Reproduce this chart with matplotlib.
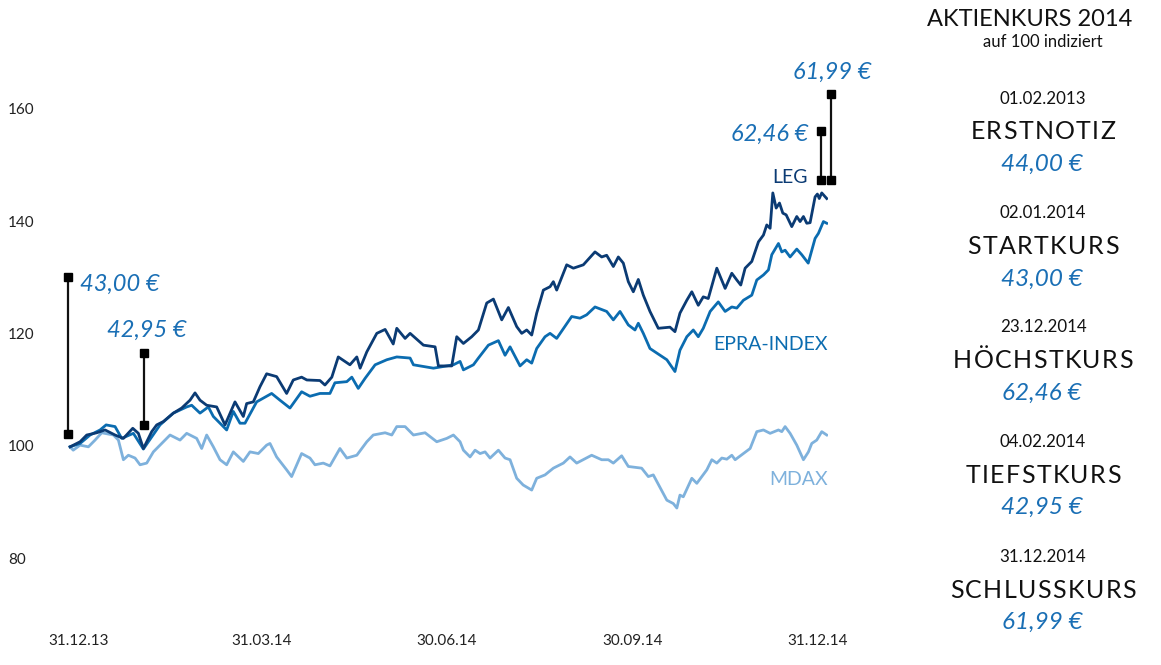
import matplotlib
matplotlib.use("Agg")
import matplotlib.pyplot as plt
from matplotlib.lines import Line2D

plt.rcParams['font.family'] = ['Lato', 'DejaVu Sans']

# ---- data (day of year 2014, index value; 31.12.2013 = 100) ----
leg_days = [1.0, 5.8, 9.0, 13.8, 17.8, 22.6, 26.6, 31.1, 33.8, 36.2, 40.2, 42.6, 45.8, 50.6, 54.6,
            58.6, 61.0, 63.4, 66.6, 71.4, 75.4, 80.2, 84.2, 85.8, 89.0, 92.2, 95.4, 100.2, 105.0,
            108.2, 112.2, 114.7, 121.0, 123.4, 126.7, 129.8, 135.4, 138.7, 140.3, 143.5, 148.3,
            152.3, 156.2, 157.9, 161.9, 164.3, 170.7, 176.3, 177.9, 184.3, 186.7, 189.9, 193.9,
            197.1, 201.1, 204.3, 208.3, 211.5, 215.5, 217.9, 220.3, 222.7, 225.1, 228.3, 231.5,
            233.1, 234.7, 239.5, 242.7, 247.5, 253.1, 256.3, 258.7, 261.9, 264.3, 266.7, 269.1,
            271.5, 273.9, 276.3, 279.5, 283.5, 289.1, 291.5, 293.9, 297.2, 299.6, 302.7, 305.1,
            307.5, 311.6, 315.6, 318.8, 321.2, 323.1, 325.2, 328.4, 331.6, 334.0, 335.6, 337.2,
            338.5, 340.1, 341.7, 343.3, 344.9, 347.6, 350.0, 351.6, 353.2, 354.8, 356.4, 358.8,
            359.9, 360.8, 362.0, 364.4]
leg_vals = [99.8, 100.7, 101.9, 102.3, 102.8, 101.9, 101.3, 103.1, 102.2, 99.5, 102.5, 103.7, 104.3,
            105.8, 106.7, 108.1, 109.4, 108.1, 107.2, 106.9, 103.7, 107.8, 105.2, 107.5, 107.8,
            110.5, 112.8, 112.3, 109.3, 111.7, 112.2, 111.7, 111.6, 110.8, 112.2, 115.8, 114.4,
            115.8, 113.8, 116.7, 120.0, 120.7, 118.1, 120.9, 119.1, 120.0, 117.9, 117.6, 114.2,
            114.2, 119.4, 118.2, 119.4, 120.6, 125.4, 126.1, 122.4, 124.6, 121.2, 120.0, 120.6,
            119.7, 123.6, 127.7, 128.3, 129.2, 127.7, 132.2, 131.6, 132.2, 134.5, 133.6, 133.9,
            131.9, 133.6, 132.5, 129.2, 127.4, 129.6, 126.8, 123.9, 120.9, 121.1, 120.3, 123.6,
            125.9, 127.4, 125.0, 126.5, 126.2, 131.6, 128.0, 130.7, 129.5, 128.6, 131.6, 132.8,
            136.3, 137.5, 139.3, 138.7, 145.0, 142.3, 143.2, 141.4, 141.1, 139.0, 140.8, 139.9,
            140.8, 139.6, 139.7, 144.3, 144.8, 144.0, 145.0, 144.0]

epra_days = [1.0, 5.8, 10.6, 15.4, 18.3, 22.6, 25.8, 31.4, 36.2, 38.6, 44.2, 50.6, 57.0, 59.4, 63.4,
             67.4, 69.8, 76.2, 79.4, 82.6, 85.0, 90.6, 97.8, 101.8, 106.6, 112.2, 116.2, 121.0,
             125.8, 128.2, 133.9, 136.3, 139.4, 142.7, 147.5, 153.1, 157.9, 164.3, 165.9, 170.7,
             175.5, 180.3, 185.1, 188.3, 189.9, 194.7, 197.1, 201.9, 206.7, 209.9, 212.3, 217.1,
             220.3, 222.7, 225.1, 229.1, 231.5, 234.7, 241.9, 245.9, 249.1, 253.1, 258.7, 261.9,
             265.1, 269.1, 272.3, 273.9, 276.3, 279.5, 287.6, 291.5, 293.9, 297.2, 300.3, 302.7,
             305.1, 308.4, 312.3, 315.6, 318.8, 321.2, 324.4, 328.4, 330.8, 334.0, 336.4, 338.0,
             341.2, 342.8, 344.4, 346.8, 350.0, 352.4, 355.5, 358.8, 360.4, 362.8, 364.4]
epra_vals = [99.8, 100.4, 101.9, 102.8, 103.7, 103.4, 101.3, 102.2, 99.4, 100.7, 103.7, 105.8, 106.9,
             107.2, 105.8, 106.9, 105.2, 102.8, 106.1, 104.0, 104.0, 107.8, 109.3, 108.1, 106.7,
             109.6, 108.8, 109.3, 109.3, 111.2, 111.4, 112.2, 110.2, 112.0, 114.4, 115.3, 115.8,
             115.6, 114.4, 114.1, 113.8, 114.1, 114.4, 115.0, 113.5, 114.4, 115.6, 117.9, 118.7,
             116.1, 117.6, 114.2, 115.3, 114.7, 117.3, 119.4, 120.0, 119.1, 123.0, 122.7, 123.3,
             124.7, 123.9, 122.4, 123.9, 121.5, 120.6, 121.8, 120.0, 117.3, 115.3, 113.2, 117.0,
             119.4, 120.6, 119.4, 120.9, 123.9, 125.6, 123.9, 124.7, 124.5, 125.9, 126.8, 129.5,
             130.4, 131.3, 134.0, 136.0, 134.5, 134.8, 133.6, 135.0, 134.0, 132.5, 136.9, 137.8,
             139.9, 139.6]

mdax_days = [1.0, 2.5, 5.8, 9.8, 13.0, 16.2, 21.8, 24.2, 26.6, 29.0, 32.2, 34.6, 37.8, 41.0, 44.2,
             49.0, 53.8, 57.0, 61.8, 64.2, 66.6, 69.8, 73.0, 76.2, 79.4, 84.2, 87.4, 91.4, 95.4,
             97.0, 100.2, 105.0, 107.4, 112.2, 116.2, 118.6, 122.6, 125.8, 130.6, 133.9, 138.7,
             143.5, 146.6, 152.3, 155.5, 157.9, 161.9, 165.9, 171.5, 177.1, 181.9, 185.1, 188.3,
             189.9, 193.1, 195.5, 197.9, 200.3, 202.7, 206.7, 209.9, 212.3, 215.5, 218.6, 222.7,
             225.1, 229.1, 233.1, 237.9, 241.1, 244.3, 251.5, 256.3, 259.5, 261.9, 265.9, 269.1,
             275.5, 278.7, 281.1, 287.6, 290.7, 292.4, 293.9, 295.5, 299.6, 302.0, 306.8, 309.2,
             311.6, 314.0, 316.4, 318.8, 320.4, 327.6, 330.8, 334.0, 337.2, 341.2, 342.8, 344.4,
             346.8, 350.0, 353.2, 355.6, 357.2, 359.6, 362.0, 364.4]
mdax_vals = [99.8, 99.2, 100.1, 99.8, 101.0, 102.3, 101.9, 101.0, 97.5, 98.3, 97.8, 96.6, 96.9, 98.9,
             100.1, 101.9, 101.0, 102.2, 101.3, 99.5, 101.9, 99.8, 97.5, 96.6, 98.9, 97.2, 98.9,
             98.6, 100.1, 100.4, 98.0, 95.7, 94.5, 98.6, 97.8, 96.6, 96.9, 96.4, 99.5, 97.8, 98.3,
             100.7, 101.9, 102.3, 101.9, 103.4, 103.4, 101.9, 102.3, 100.7, 101.3, 101.9, 100.7,
             99.2, 98.0, 99.2, 98.6, 98.9, 97.8, 99.2, 97.8, 97.5, 94.2, 93.0, 92.1, 94.2, 94.8,
             96.0, 96.9, 98.0, 96.9, 98.3, 97.5, 97.5, 96.9, 98.2, 96.3, 96.0, 94.5, 94.8, 90.3,
             89.7, 88.9, 91.2, 90.9, 94.2, 93.3, 95.7, 97.5, 96.9, 97.8, 97.6, 98.3, 97.5, 99.5,
             102.5, 102.8, 102.2, 102.8, 102.5, 103.4, 102.2, 100.1, 97.5, 98.9, 100.4, 101.0,
             102.5, 101.9]

y_ticks = [80, 100, 120, 140, 160]
x_tick_labels = ['31.12.13', '31.03.14', '30.06.14', '30.09.14', '31.12.14']
x_tick_days = [5, 93, 182, 271, 360]

series_names = ['LEG', 'EPRA-INDEX', 'MDAX']

# annotations: (day, low, high) brackets and price labels
bracket_defs = [(0.1, 102.0, 130.1), (36.5, 103.6, 116.5), (361.7, 147.3, 156.0), (366.3, 147.3, 162.7)]
price_labels = ['43,00 €', '42,95 €', '62,46 €', '61,99 €']

panel_dates = ['01.02.2013', '02.01.2014', '23.12.2014', '04.02.2014', '31.12.2014']
panel_heads = ['ERSTNOTIZ', 'STARTKURS', 'HÖCHSTKURS', 'TIEFSTKURS', 'SCHLUSSKURS']
panel_vals = ['44,00 €', '43,00 €', '62,46 €', '42,95 €', '61,99 €']

# ---- style ----
C_LEG = '#0b3b74'
C_EPRA = '#0b6cb0'
C_MDAX = '#7eb1dc'
C_TXT = '#1a6fb5'

W, H = 1161, 665
fig = plt.figure(figsize=(W / 100, H / 100), dpi=100)
ax = fig.add_axes([68 / W, 1 - 614.2 / H, 760 / W, (614.2 - 52.5) / H])
ax.set_xlim(0, 365)
ax.set_ylim(70, 170)
for s in ax.spines.values():
    s.set_visible(False)

ax.plot(mdax_days, mdax_vals, color=C_MDAX, lw=2.0, solid_joinstyle='round', zorder=2)
ax.plot(epra_days, epra_vals, color=C_EPRA, lw=2.0, solid_joinstyle='round', zorder=3)
ax.plot(leg_days, leg_vals, color=C_LEG, lw=2.0, solid_joinstyle='round', zorder=4)

ax.set_yticks(y_ticks)
ax.set_yticklabels([str(v) for v in y_ticks])
ax.set_xticks(x_tick_days)
ax.set_xticklabels(x_tick_labels)
ax.tick_params(axis='both', length=0, labelsize=11, labelcolor='#222222')
ax.tick_params(axis='y', pad=43)
ax.tick_params(axis='x', pad=14)
for lab in ax.get_yticklabels():
    lab.set_ha('left')

# series labels
ax.text(355.5, 147.7, series_names[0], color=C_LEG, fontsize=14, ha='right', va='center')
ax.text(365, 118.1, series_names[1], color=C_EPRA, fontsize=14, ha='right', va='center')
ax.text(365, 93.9, series_names[2], color=C_MDAX, fontsize=14, ha='right', va='center')

# brackets
for d, lo, hi in bracket_defs:
    ax.add_line(Line2D([d, d], [lo, hi], color='#111111', lw=1.6, marker='s', markersize=6,
                       markerfacecolor='#000000', markeredgecolor='#000000', clip_on=False, zorder=6))

ax.text(5.8, 128.8, price_labels[0], color=C_TXT, fontsize=17, style='italic', ha='left', va='center')
ax.text(18.7, 120.6, price_labels[1], color=C_TXT, fontsize=17, style='italic', ha='left', va='center')
ax.text(355.4, 155.5, price_labels[2], color=C_TXT, fontsize=17, style='italic', ha='right', va='center')
ax.text(367, 166.5, price_labels[3], color=C_TXT, fontsize=17, style='italic', ha='center', va='center', clip_on=False)

# right panel
renderer = fig.canvas.get_renderer()


def spaced_text(xc_px, baseline_px, s, size, gap_px, **kw):
    widths = []
    for ch in s:
        t = fig.text(0, 0, ch, fontsize=size, **kw)
        widths.append(t.get_window_extent(renderer).width)
        t.remove()
    total = sum(widths) + gap_px * (len(s) - 1)
    x = xc_px - total / 2
    for ch, w in zip(s, widths):
        fig.text(x / W, 1 - baseline_px / H, ch, fontsize=size, ha='left', va='baseline', **kw)
        x += w + gap_px


fig.text(1030 / W, 1 - 20 / H, 'AKTIENKURS 2014', fontsize=17, color='#111111', ha='center', va='center')
fig.text(1043 / W, 1 - 42 / H, 'auf 100 indiziert', fontsize=12, color='#111111', ha='center', va='center')
date_y = [99, 213, 327, 442, 557]
head_base = [139, 254, 368, 483, 598]
val_y = [164, 279, 393, 507, 622]
for i in range(5):
    fig.text(1043 / W, 1 - date_y[i] / H, panel_dates[i], fontsize=12.2, color='#111111', ha='center', va='center')
    spaced_text(1043, head_base[i], panel_heads[i], 18, 1.4, color='#111111')
    fig.text(1042 / W, 1 - val_y[i] / H, panel_vals[i], fontsize=17.5, color=C_TXT, style='italic', ha='center', va='center')

fig.savefig('out.png', dpi=100)
